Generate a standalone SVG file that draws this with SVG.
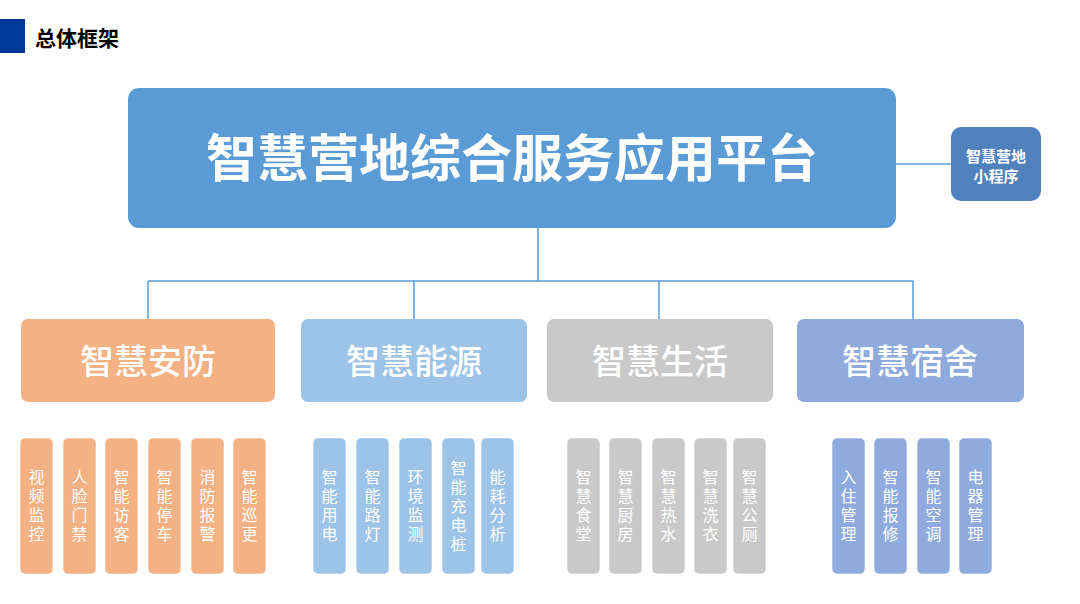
<svg xmlns="http://www.w3.org/2000/svg" width="1080" height="604" viewBox="0 0 1080 604">
<style>
text{font-family:"Noto Sans CJK SC","Liberation Sans",sans-serif;fill:#fff;text-anchor:middle;dominant-baseline:central}
.cat{font-size:34px;font-weight:500}
.sub{font-size:16px;writing-mode:vertical-rl;text-orientation:upright;letter-spacing:3px}
.ln{stroke:#5B9BD5;stroke-width:1.5;fill:none}
.o{fill:#F4B183}.b{fill:#9DC3E6}.g{fill:#C9C9C9}.p{fill:#8FAADC}
.s{stroke:#fff;stroke-width:1;stroke-opacity:0.6}
</style>
<rect width="1080" height="604" fill="#fff"/>
<g id="header">
<rect x="0" y="19" width="25" height="34" fill="#023A9A"/>
<text x="35" y="37" style="font-size:21px;font-weight:bold;fill:#000;text-anchor:start">总体框架</text>
</g>
<g id="connectors">
<path class="ln" d="M896 164H951"/>
<path class="ln" d="M538 228V281M148 281H913M148 281V319M414 281V319M659 281V319M913 281V319"/>
</g>
<g id="main">
<rect x="128" y="88" width="768" height="140" rx="11" fill="#5B9BD5"/>
<text x="512" y="155" style="font-size:51px;font-weight:bold">智慧营地综合服务应用平台</text>
</g>
<g id="mini">
<rect x="951" y="127" width="90" height="74" rx="10" fill="#4F81BD"/>
<text x="996" y="155" style="font-size:15px;font-weight:bold">智慧营地</text>
<text x="996" y="175" style="font-size:15px;font-weight:bold">小程序</text>
</g>
<g id="cat-anfang"><rect class="o" x="21" y="319" width="254" height="83" rx="7"/><text class="cat" x="148" y="359">智慧安防</text></g>
<g id="cat-nengyuan"><rect class="b" x="301" y="319" width="226" height="83" rx="7"/><text class="cat" x="414" y="359">智慧能源</text></g>
<g id="cat-shenghuo"><rect class="g" x="547" y="319" width="226" height="83" rx="7"/><text class="cat" x="660" y="359">智慧生活</text></g>
<g id="cat-sushe"><rect class="p" x="797" y="319" width="227" height="83" rx="7"/><text class="cat" x="910" y="359">智慧宿舍</text></g>
<g id="subs">
<g id="s1"><rect class="o s" x="20" y="438" width="33" height="136" rx="5"/><text class="sub" x="36.5" y="507">视频监控</text></g>
<g id="s2"><rect class="o s" x="63" y="438" width="33" height="136" rx="5"/><text class="sub" x="79.5" y="507">人脸门禁</text></g>
<g id="s3"><rect class="o s" x="105" y="438" width="33" height="136" rx="5"/><text class="sub" x="121.5" y="507">智能访客</text></g>
<g id="s4"><rect class="o s" x="148" y="438" width="33" height="136" rx="5"/><text class="sub" x="164.5" y="507">智能停车</text></g>
<g id="s5"><rect class="o s" x="191" y="438" width="33" height="136" rx="5"/><text class="sub" x="207.5" y="507">消防报警</text></g>
<g id="s6"><rect class="o s" x="233" y="438" width="33" height="136" rx="5"/><text class="sub" x="249.5" y="507">智能巡更</text></g>
<g id="s7"><rect class="b s" x="313" y="438" width="33" height="136" rx="5"/><text class="sub" x="329.5" y="507">智能用电</text></g>
<g id="s8"><rect class="b s" x="356" y="438" width="33" height="136" rx="5"/><text class="sub" x="372.5" y="507">智能路灯</text></g>
<g id="s9"><rect class="b s" x="399" y="438" width="33" height="136" rx="5"/><text class="sub" x="415.5" y="507">环境监测</text></g>
<g id="s10"><rect class="b s" x="442" y="438" width="33" height="136" rx="5"/><text class="sub" x="458.5" y="507">智能充电桩</text></g>
<g id="s11"><rect class="b s" x="481" y="438" width="33" height="136" rx="5"/><text class="sub" x="497.5" y="507">能耗分析</text></g>
<g id="s12"><rect class="g s" x="567" y="438" width="33" height="136" rx="5"/><text class="sub" x="583.5" y="507">智慧食堂</text></g>
<g id="s13"><rect class="g s" x="609" y="438" width="33" height="136" rx="5"/><text class="sub" x="625.5" y="507">智慧厨房</text></g>
<g id="s14"><rect class="g s" x="652" y="438" width="33" height="136" rx="5"/><text class="sub" x="668.5" y="507">智慧热水</text></g>
<g id="s15"><rect class="g s" x="694" y="438" width="33" height="136" rx="5"/><text class="sub" x="710.5" y="507">智慧洗衣</text></g>
<g id="s16"><rect class="g s" x="733" y="438" width="33" height="136" rx="5"/><text class="sub" x="749.5" y="507">智慧公厕</text></g>
<g id="s17"><rect class="p s" x="832" y="438" width="33" height="136" rx="5"/><text class="sub" x="848.5" y="507">入住管理</text></g>
<g id="s18"><rect class="p s" x="874" y="438" width="33" height="136" rx="5"/><text class="sub" x="890.5" y="507">智能报修</text></g>
<g id="s19"><rect class="p s" x="917" y="438" width="33" height="136" rx="5"/><text class="sub" x="933.5" y="507">智能空调</text></g>
<g id="s20"><rect class="p s" x="959" y="438" width="33" height="136" rx="5"/><text class="sub" x="975.5" y="507">电器管理</text></g>
</g>
</svg>
